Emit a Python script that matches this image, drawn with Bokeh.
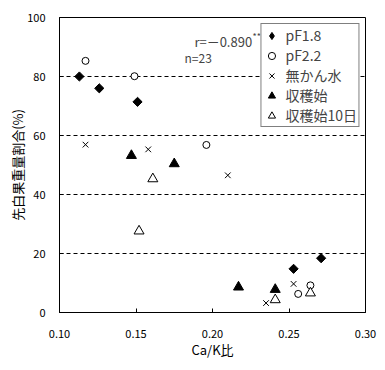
import math
from bokeh.plotting import figure
from bokeh.models import (FixedTicker, Label, Legend, LegendItem, CustomJSTickFormatter)
from bokeh.embed import file_html
from bokeh.resources import INLINE

# ---- data ----
pf18_x = [0.113, 0.126, 0.151, 0.253, 0.271]
pf18_y = [80.0, 76.0, 71.4, 14.8, 18.4]

pf22_x = [0.117, 0.149, 0.196, 0.256, 0.264]
pf22_y = [85.3, 80.1, 56.8, 6.3, 9.2]

nowater_x = [0.117, 0.158, 0.210, 0.235, 0.253]
nowater_y = [56.9, 55.3, 46.5, 3.2, 9.7]

harv_x = [0.147, 0.175, 0.217, 0.241]
harv_y = [53.2, 50.4, 8.6, 7.8]

harv10_x = [0.161, 0.152, 0.241, 0.264]
harv10_y = [45.3, 27.6, 4.3, 6.6]

x_ticks = [0.10, 0.15, 0.20, 0.25, 0.30]
y_ticks = [0, 20, 40, 60, 80, 100]
grid_ticks = [20, 40, 60, 80]

series_names = ["pF1.8", "pF2.2", "無かん水", "収穫始", "収穫始10日"]
stat_text = "r=－0.890"
stat_sup = "**"
n_text = "n=23"

FONT = "Noto Sans CJK JP"

p = figure(width=380, height=362, x_range=(0.10, 0.30), y_range=(0, 100),
           output_backend="svg", toolbar_location=None,
           min_border_left=59, min_border_right=15, min_border_top=17, min_border_bottom=50)
p.background_fill_color = "white"
p.border_fill_color = "white"
p.outline_line_color = "black"
p.outline_line_width = 1

p.xgrid.visible = False
p.ygrid.grid_line_color = "black"
p.ygrid.grid_line_dash = "4 3"
p.ygrid.grid_line_width = 1
p.ygrid.ticker = FixedTicker(ticks=grid_ticks)

p.xaxis.ticker = FixedTicker(ticks=x_ticks)
p.xaxis.formatter = CustomJSTickFormatter(code="return tick.toFixed(2);")
p.yaxis.ticker = FixedTicker(ticks=y_ticks)

for ax in (p.xaxis[0], p.yaxis[0]):
    ax.axis_line_color = "black"
    ax.major_tick_line_color = "black"
    ax.major_tick_in = 4
    ax.major_tick_out = 0
    ax.minor_tick_line_color = None
    ax.major_label_text_font = FONT
    ax.major_label_text_font_size = "11px"
    ax.major_label_text_color = "black"
    ax.axis_label_text_font = FONT
    ax.axis_label_text_font_size = "13px"
    ax.axis_label_text_font_style = "normal"
    ax.axis_label_text_color = "black"

p.xaxis.major_label_standoff = 17
p.yaxis.major_label_standoff = 14
p.xaxis.axis_label = "Ca/K比"
p.xaxis.axis_label_standoff = -1
p.yaxis.axis_label = "先白果重量割合(%)"
p.yaxis.axis_label_standoff = -3

r1 = p.scatter(pf18_x, pf18_y, marker="square", angle=math.pi / 4, size=6.5,
               fill_color="black", line_color="black")
r2 = p.scatter(pf22_x, pf22_y, marker="circle", size=7, fill_color="white", line_color="black")
r3 = p.scatter(nowater_x, nowater_y, marker="x", size=8, line_color="black", line_width=1)
r4 = p.scatter(harv_x, harv_y, marker="triangle", size=10, fill_color="black", line_color="black")
r5 = p.scatter(harv10_x, harv10_y, marker="triangle", size=10, fill_color="white", line_color="black")
# hidden twin of the pF1.8 series, used only for its diamond legend key
# (legend markers ignore rotation, so the rotated square would show as a square)
r1_key = p.scatter(pf18_x, pf18_y, marker="diamond", size=9, fill_color="black", line_color="black")
r1_key.visible = False

legend = Legend(items=[LegendItem(label=n, renderers=[r]) for n, r in
                       zip(series_names, [r1_key, r2, r3, r4, r5])],
                location="top_right")
legend.border_line_color = "black"
legend.border_line_width = 1
legend.background_fill_color = "white"
legend.background_fill_alpha = 1
legend.inactive_fill_alpha = 0
legend.label_text_font = FONT
legend.label_text_font_size = "14px"
legend.glyph_width = 18
legend.glyph_height = 19
legend.label_height = 19
legend.label_standoff = 5
legend.spacing = 0
legend.padding = 1
legend.margin = 6
p.add_layout(legend)

p.add_layout(Label(x=0.2259, y=91.9, text=stat_text, text_font=FONT,
                   text_font_size="13px", text_baseline="alphabetic", text_align="right"))
p.add_layout(Label(x=0.2261, y=95.6, text=stat_sup, text_font=FONT,
                   text_font_size="9px", text_baseline="top"))
p.add_layout(Label(x=0.1817, y=86.4, text=n_text, text_font=FONT,
                   text_font_size="12px", text_baseline="alphabetic"))

open("out.html", "w").write(file_html(p, INLINE))
